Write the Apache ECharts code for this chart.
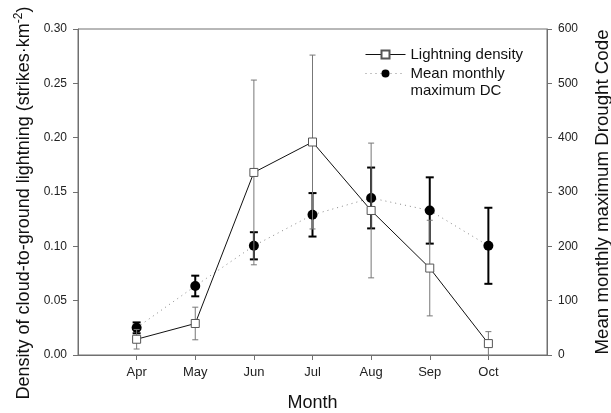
<!DOCTYPE html>
<html>
<head>
<meta charset="utf-8">
<script src="https://cdn.jsdelivr.net/npm/echarts@6/dist/echarts.min.js"></script>
<style>
html,body{margin:0;padding:0;background:#fff;}
#chart{width:611px;height:413px;}
</style>
</head>
<body>
<div id="chart"></div>
<script>
// Data
var months = ['Apr', 'May', 'Jun', 'Jul', 'Aug', 'Sep', 'Oct'];
var xCategories = [''].concat(months).concat(['']);
var lightningDensity = [0.0145, 0.029, 0.168, 0.196, 0.133, 0.080, 0.0105];
var lightningErr = [0.009, 0.015, 0.085, 0.080, 0.062, 0.044, 0.011];
var droughtCode = [50, 127, 201, 258, 289, 266, 201];
var droughtErr = [10, 19, 25, 40, 56, 61, 70];
var leftTicks = [0, 0.05, 0.10, 0.15, 0.20, 0.25, 0.30];
var rightTicks = [0, 100, 200, 300, 400, 500, 600];

var FONT = 'Liberation Sans, Arial, sans-serif';
var DC_NAME = 'Mean monthly maximum DC';
var LD_NAME = 'Lightning density';

function pairs(vals) { return months.map(function (m, i) { return [m, vals[i]]; }); }
function errData(vals, errs) {
  return months.map(function (m, i) { return [m, vals[i] - errs[i], vals[i] + errs[i]]; });
}
function errRender(capHalf, color, width) {
  return function (params, api) {
    var x = api.value(0);
    var lo = api.coord([x, api.value(1)]);
    var hi = api.coord([x, api.value(2)]);
    var style = { stroke: color, lineWidth: width };
    return {
      type: 'group',
      children: [
        { type: 'line', shape: { x1: hi[0], y1: hi[1], x2: lo[0], y2: lo[1] }, style: style },
        { type: 'line', shape: { x1: hi[0] - capHalf, y1: hi[1], x2: hi[0] + capHalf, y2: hi[1] }, style: style },
        { type: 'line', shape: { x1: lo[0] - capHalf, y1: lo[1], x2: lo[0] + capHalf, y2: lo[1] }, style: style }
      ]
    };
  };
}

var chart = echarts.init(document.getElementById('chart'), null, { renderer: 'canvas' });
var axisColor = '#707070';
chart.setOption({
  animation: false,
  backgroundColor: '#fff',
  textStyle: { fontFamily: FONT },
  grid: { left: 78, right: 64, top: 29, bottom: 58, outerBoundsMode: 'none', containLabel: false,
          show: true, borderColor: axisColor, borderWidth: 1 },
  legend: {
    orient: 'vertical',
    left: 365,
    top: 46,
    padding: 0,
    itemWidth: 40,
    itemHeight: 10,
    itemGap: -15,
    lineStyle: { width: 1 },
    textStyle: { fontSize: 15, color: '#111', fontFamily: FONT, lineHeight: 17 },
    formatter: function (name) {
      return name === DC_NAME ? '\u00a0\nMean monthly\nmaximum DC' : name;
    },
    data: [LD_NAME, DC_NAME]
  },
  xAxis: {
    type: 'category',
    data: xCategories,
    boundaryGap: false,
    name: 'Month',
    nameLocation: 'middle',
    nameGap: 39,
    nameTextStyle: { fontSize: 18, color: '#111', fontFamily: FONT },
    axisLine: { lineStyle: { color: axisColor } },
    axisTick: { show: true, length: 5, lineStyle: { color: axisColor }, interval: function (idx, val) { return val !== ''; } },
    axisLabel: { interval: 0, fontSize: 13, color: '#222', margin: 11, fontFamily: FONT },
    splitLine: { show: false }
  },
  yAxis: [
    {
      type: 'value',
      min: leftTicks[0],
      max: leftTicks[leftTicks.length - 1],
      interval: 0.05,
      name: '{n|Density of cloud-to-ground lightning (strikes·km}{s|-2}{n|)}',
      nameLocation: 'middle',
      nameGap: 43,
      nameTextStyle: {
        fontSize: 18, color: '#111', fontFamily: FONT,
        padding: [0, 22, 0, 0],
        rich: {
          n: { fontSize: 18, color: '#111', fontFamily: FONT, lineHeight: 22 },
          s: { fontSize: 12, color: '#111', fontFamily: FONT, lineHeight: 22, verticalAlign: 'top', padding: [0, 0, 6, 0] }
        }
      },
      axisLine: { show: true, lineStyle: { color: axisColor } },
      axisTick: { show: true, length: 5, lineStyle: { color: axisColor } },
      axisLabel: { fontSize: 12, color: '#222', margin: 11, fontFamily: FONT, formatter: function (v) { return v.toFixed(2); } },
      splitLine: { show: false }
    },
    {
      type: 'value',
      position: 'right',
      min: rightTicks[0],
      max: rightTicks[rightTicks.length - 1],
      interval: 100,
      name: 'Mean monthly maximum Drought Code',
      nameLocation: 'middle',
      nameGap: 46,
      nameTextStyle: { fontSize: 18.7, color: '#111', fontFamily: FONT },
      axisLine: { show: true, lineStyle: { color: axisColor } },
      axisTick: { show: true, length: 5, lineStyle: { color: axisColor } },
      axisLabel: { fontSize: 12, color: '#222', margin: 11, fontFamily: FONT },
      splitLine: { show: false }
    }
  ],
  series: [
    {
      type: 'custom',
      yAxisIndex: 1,
      z: 1,
      silent: true,
      renderItem: errRender(4, '#000', 2),
      data: errData(droughtCode, droughtErr),
      encode: { x: 0, y: [1, 2] }
    },
    {
      name: DC_NAME,
      type: 'line',
      yAxisIndex: 1,
      z: 2,
      data: pairs(droughtCode),
      symbol: 'circle',
      symbolSize: 10,
      itemStyle: { color: '#000', borderColor: '#000', borderWidth: 0 },
      lineStyle: { color: '#888', width: 1, type: [1, 4] }
    },
    {
      type: 'custom',
      yAxisIndex: 0,
      z: 3,
      silent: true,
      renderItem: errRender(3, '#777', 1),
      data: errData(lightningDensity, lightningErr),
      encode: { x: 0, y: [1, 2] }
    },
    {
      name: LD_NAME,
      type: 'line',
      yAxisIndex: 0,
      z: 4,
      data: pairs(lightningDensity),
      symbol: 'rect',
      symbolSize: 8,
      itemStyle: { color: '#fff', borderColor: '#555', borderWidth: 1 },
      lineStyle: { color: '#111', width: 1 }
    }
  ]
});
</script>
</body>
</html>
